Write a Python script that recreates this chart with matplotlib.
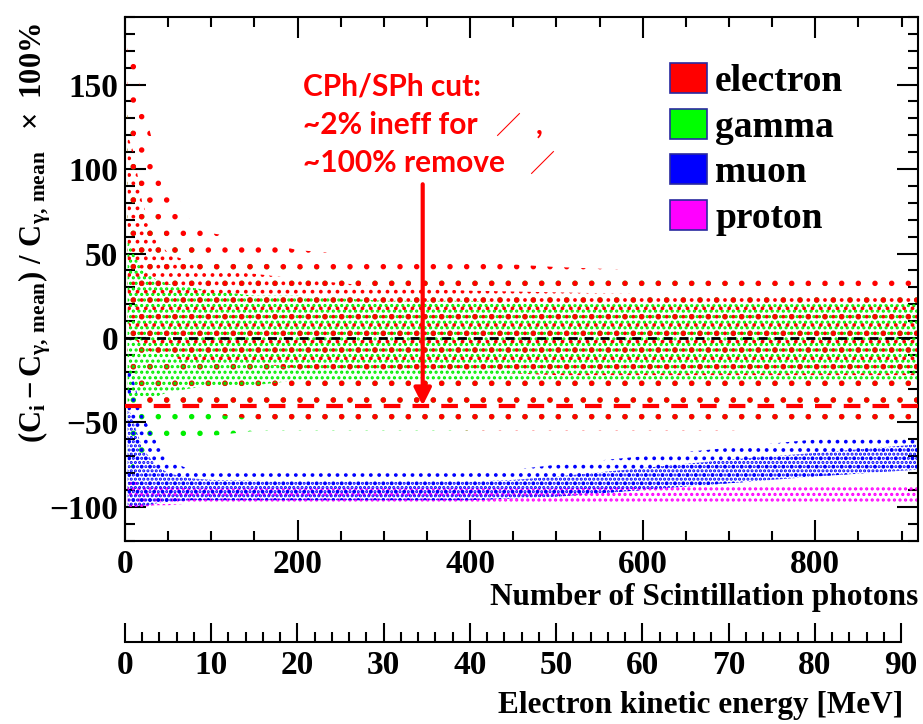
import matplotlib
matplotlib.use("Agg")
import matplotlib.pyplot as plt
from matplotlib.patches import Patch
from matplotlib.ticker import MultipleLocator

plt.rcParams['font.family'] = ['Liberation Serif', 'DejaVu Serif']
plt.rcParams['font.weight'] = 'bold'
plt.rcParams['mathtext.fontset'] = 'custom'
plt.rcParams['mathtext.rm'] = 'Liberation Serif:bold'
plt.rcParams['mathtext.bf'] = 'Liberation Serif:bold'
plt.rcParams['mathtext.it'] = 'Liberation Serif:bold'
plt.rcParams['hatch.linewidth'] = 1.5

# ---------------- data ----------------
# photon-count nodes for the band envelopes
x_nodes = [3, 10, 20, 35, 50, 75, 100, 150, 200, 300, 400, 500, 600, 700, 800, 918]

# electron (red) cloud: outer (sparse) and core (dense) envelopes, %
ele_outer_hi = [180, 170, 140, 110, 95, 70, 62, 58, 52, 48, 45, 42, 40, 38, 36, 35]
ele_core_hi  = [120, 110, 80, 60, 50, 45, 40, 38, 35, 30, 28, 27, 26, 25, 25, 25]
ele_core_lo  = [10, 0, -5, -10, -10, -15, -15, -15, -18, -20, -20, -22, -22, -22, -22, -22]
ele_outer_lo = [-20, -30, -40, -45, -45, -45, -45, -48, -50, -52, -55, -55, -55, -55, -52, -50]

# gamma (green) cloud
gam_outer_hi = [150, 120, 90, 75, 60, 55, 50, 45, 42, 40, 38, 35, 35, 33, 32, 30]
gam_core_hi  = [60, 50, 40, 35, 32, 30, 28, 25, 25, 22, 22, 20, 20, 20, 20, 20]
gam_core_lo  = [-40, -35, -35, -35, -32, -30, -28, -28, -25, -25, -25, -25, -25, -25, -25, -25]
gam_outer_lo = [-80, -75, -70, -65, -62, -60, -58, -55, -55, -55, -55, -52, -52, -52, -50, -50]

# muon (blue) band
mu_x        = [3, 10, 20, 35, 50, 75, 100, 200, 300, 400, 450, 500, 600, 700, 800, 918]
mu_outer_hi = [-15, -25, -45, -60, -72, -78, -80, -80, -80, -80, -78, -75, -70, -65, -60, -58]
mu_core_hi  = [-40, -50, -65, -75, -80, -83, -84, -85, -85, -85, -84, -82, -77, -72, -68, -63]
mu_core_lo  = [-100, -100, -100, -98, -97, -96, -96, -96, -96, -96, -95, -94, -90, -86, -82, -78]

# proton (magenta) band
pr_core_hi = [-85, -85, -86, -88, -88, -89, -89, -89, -89, -89, -89, -89, -88, -88, -88, -88]
pr_core_lo = [-100, -100, -100, -99, -99, -98, -98, -98, -98, -98, -98, -98, -98, -98, -98, -98]

cut_value = -40
arrow_x = 345
arrow_top = 91

legend_labels = ['electron', 'gamma', 'muon', 'proton']
legend_colors = ['#ff0000', '#00ff00', '#0000ff', '#ff00ff']

# ---------------- figure ----------------
fig = plt.figure(figsize=(9.23, 7.24), dpi=100)
ax = fig.add_axes([125/923, 1-540.7/724, 793/923, 523.7/724])
ax.set_xlim(0, 919)
ax.set_ylim(-120, 190)

def band(x, lo, hi, color, hatch):
    ax.fill_between(x, lo, hi, facecolor='none', edgecolor=color,
                    linewidth=0, hatch=hatch, zorder=2)

# electron / gamma clouds
band(x_nodes, gam_outer_lo, gam_outer_hi, '#00ee00', '.')
band(x_nodes, ele_outer_lo, ele_outer_hi, '#ff0000', '.')
band(x_nodes, gam_core_lo, gam_core_hi, '#00ee00', '...')
band(x_nodes, ele_core_lo, ele_core_hi, '#ff0000', '..')

# proton / muon bands
band(mu_x, pr_core_lo, pr_core_hi, '#ff00ff', '...')
band(mu_x, mu_core_lo, mu_outer_hi, '#0000ff', '..')
band(mu_x, mu_core_lo, mu_core_hi, '#0000ff', '....')

# reference lines
ax.axhline(0, color='black', lw=2, ls=(0, (3.2, 2.5)), zorder=3)
ax.axhline(cut_value, color='red', lw=3, ls=(0, (4, 2.9)), zorder=3)
ax.annotate('', xy=(arrow_x, cut_value), xytext=(arrow_x, arrow_top),
            arrowprops=dict(arrowstyle='-|>', color='red', lw=3,
                            mutation_scale=26, shrinkA=0, shrinkB=0), zorder=4)

# annotation text
afont = dict(family=['Lato', 'DejaVu Sans'], weight='bold', size=21.5, color='red')
ax.text(0.225, 0.851, 'CPh/SPh cut:', transform=ax.transAxes, va='baseline', **afont)
ax.text(0.225, 0.7766, '~2% ineff for', transform=ax.transAxes, va='baseline', **afont)
ax.text(0.225, 0.704, '~100% remove', transform=ax.transAxes, va='baseline', **afont)
sfont = dict(family=['Noto Sans CJK SC', 'DejaVu Sans'], weight='normal', size=18, color='red')
ax.text(0.467, 0.7766, '／', transform=ax.transAxes, va='baseline', **sfont)
ax.text(0.5175, 0.7766, ',', transform=ax.transAxes, va='baseline', **afont)
ax.text(0.5095, 0.704, '／', transform=ax.transAxes, va='baseline', **sfont)

# ticks
ax.xaxis.set_major_locator(MultipleLocator(200))
ax.xaxis.set_minor_locator(MultipleLocator(50))
ax.yaxis.set_major_locator(MultipleLocator(50))
ax.yaxis.set_minor_locator(MultipleLocator(10))
ax.tick_params(which='both', direction='in', top=True, right=True, width=1.5,
               labelsize=24)
ax.tick_params(which='major', length=15)
ax.tick_params(which='minor', length=7.5)
ax.tick_params(axis='x', pad=6)
ax.tick_params(axis='y', pad=5)
for sp in ax.spines.values():
    sp.set_linewidth(1.5)

# legend
handles = [Patch(facecolor=c, edgecolor='#2a2aa0', linewidth=1.2) for c in legend_colors]
leg = ax.legend(handles, legend_labels, loc='upper left',
                bbox_to_anchor=(545/793, 1-46/523.7), frameon=False,
                prop=dict(family='Liberation Serif', weight='bold', size=27),
                handlelength=0.98, handleheight=0.85, handletextpad=0.22,
                labelspacing=0.26, borderpad=0, borderaxespad=0)

# axis labels
fig.text(35/923, 1-233/724,
         r'$\mathbf{(C_{i} - C_{\gamma,\, mean})\ /\ C_{\gamma,\, mean}}\ \ \times\ \mathbf{100\%}$',
         rotation=90, ha='center', va='center', fontsize=22)
fig.text(918/923, 1-597/724, 'Number of Scintillation photons',
         ha='right', va='center', fontsize=22.5, weight='bold')

# secondary energy axis
ax2 = fig.add_axes([125/923, 1-641.7/724, 776/923, 0.001])
ax2.set_xlim(0, 90)
ax2.set_yticks([])
for s in ['top', 'left', 'right']:
    ax2.spines[s].set_visible(False)
ax2.spines['bottom'].set_linewidth(1.5)
ax2.patch.set_visible(False)
ax2.xaxis.set_major_locator(MultipleLocator(10))
ax2.xaxis.set_minor_locator(MultipleLocator(2))
ax2.tick_params(axis='x', which='both', direction='in', width=1.5, labelsize=24, pad=6)
ax2.tick_params(axis='x', which='major', length=14)
ax2.tick_params(axis='x', which='minor', length=7)
fig.text(903/923, 1-706/724, 'Electron kinetic energy [MeV]',
         ha='right', va='center', fontsize=22.5, weight='bold')

fig.savefig('out.png', dpi=100)
